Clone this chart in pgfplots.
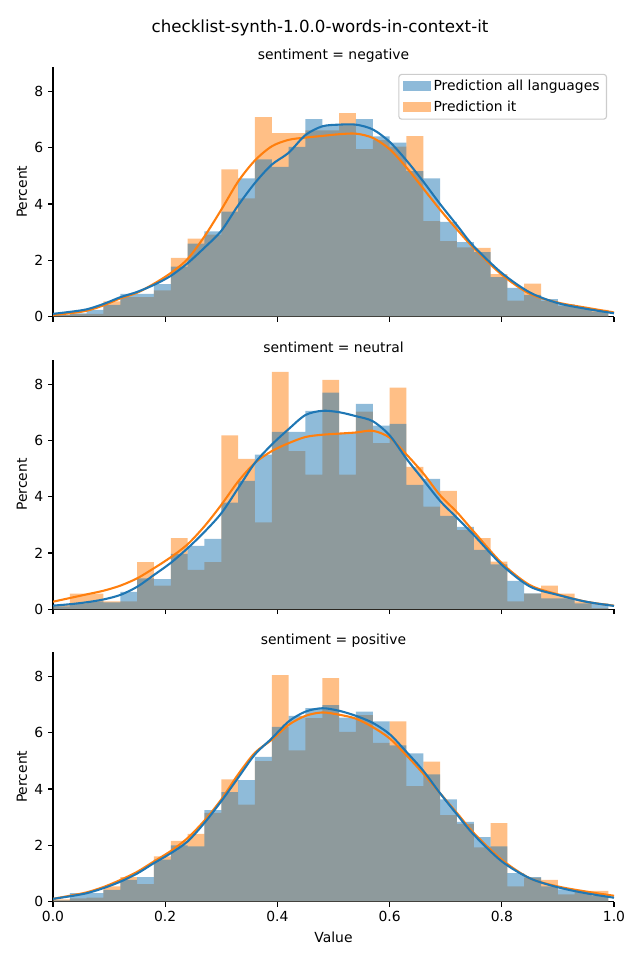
\documentclass[border=0pt]{standalone}
\usepackage{pgfplots}
\usepackage{pgfplotstable}
\pgfplotsset{compat=1.18}
\usepackage{fontspec}
\setmainfont{DejaVu Sans}
\definecolor{tabblue}{HTML}{1F77B4}
\definecolor{taborange}{HTML}{FF7F0E}

\pgfplotstableread{
x a1 o1 a2 o2 a3 o3
0.00 0.06 0.06 0.10 0.15 0.05 0.08
0.03 0.12 0.10 0.20 0.56 0.30 0.12
0.06 0.24 0.10 0.28 0.56 0.30 0.14
0.09 0.42 0.54 0.25 0.28 0.42 0.54
0.12 0.81 0.69 0.62 0.28 0.77 0.87
0.15 0.81 0.69 1.10 1.68 0.87 0.62
0.18 1.16 0.93 1.07 0.84 1.49 1.61
0.21 1.78 2.09 1.97 2.53 2.00 2.16
0.24 2.59 2.77 2.25 1.40 1.96 2.41
0.27 3.03 2.91 2.50 1.68 3.25 3.15
0.30 3.73 5.23 3.79 6.18 3.89 4.34
0.33 4.91 4.20 4.56 5.34 4.32 3.45
0.36 5.59 7.09 5.49 3.09 5.14 4.99
0.39 5.32 6.52 6.30 8.43 6.21 8.05
0.42 6.03 6.52 6.30 5.62 6.60 5.37
0.45 7.02 6.62 7.05 4.78 6.87 6.52
0.48 6.80 6.62 7.70 8.15 6.98 7.94
0.51 6.80 7.23 6.27 4.78 6.54 6.03
0.54 7.02 5.95 7.30 7.02 6.75 6.63
0.57 6.40 6.27 6.52 5.90 6.40 5.64
0.60 6.18 6.04 6.59 7.87 5.55 6.40
0.63 5.17 6.41 4.42 5.06 5.27 4.10
0.66 4.91 3.39 4.63 3.65 4.52 4.97
0.69 3.37 2.68 3.32 4.21 3.63 3.07
0.72 2.65 2.46 2.93 2.81 2.83 2.76
0.75 2.29 2.44 2.11 2.53 2.29 1.93
0.78 1.40 1.51 1.60 1.69 1.96 2.79
0.81 1.02 0.57 1.01 0.28 1.01 0.54
0.84 0.77 1.17 0.57 0.56 0.87 0.85
0.87 0.62 0.55 0.39 0.84 0.54 0.77
0.90 0.44 0.38 0.39 0.56 0.44 0.26
0.93 0.30 0.30 0.21 0.28 0.35 0.38
0.96 0.18 0.24 0.21 0.04 0.21 0.38
0.99 0 0 0 0 0 0
}\bars

\pgfplotstableread{
x a1 o1 a2 o2 a3 o3
0.00 0.10 0.06 0.13 0.27 0.10 0.10
0.03 0.17 0.12 0.18 0.40 0.19 0.21
0.06 0.26 0.21 0.25 0.53 0.30 0.33
0.09 0.45 0.40 0.35 0.66 0.48 0.52
0.12 0.69 0.65 0.51 0.84 0.71 0.77
0.15 0.88 0.85 0.80 1.10 1.00 1.06
0.18 1.13 1.17 1.22 1.46 1.37 1.43
0.21 1.45 1.55 1.65 1.85 1.72 1.80
0.24 1.90 2.05 2.17 2.31 2.14 2.26
0.27 2.45 2.85 2.75 2.95 2.80 2.88
0.30 3.05 3.80 3.41 3.71 3.57 3.63
0.33 3.95 4.80 4.30 4.54 4.40 4.52
0.36 4.75 5.55 5.20 5.20 5.23 5.29
0.39 5.40 6.05 5.85 5.62 5.80 5.75
0.42 5.82 6.28 6.40 5.90 6.40 6.28
0.45 6.45 6.36 6.90 6.12 6.75 6.60
0.48 6.76 6.42 7.05 6.20 6.87 6.72
0.51 6.82 6.48 7.00 6.24 6.78 6.64
0.54 6.82 6.50 6.86 6.28 6.60 6.50
0.57 6.65 6.35 6.68 6.34 6.35 6.20
0.60 6.21 5.95 6.18 6.10 5.95 5.80
0.63 5.55 5.30 5.35 5.50 5.32 5.20
0.66 4.80 4.55 4.60 4.83 4.65 4.55
0.69 4.00 3.80 3.85 4.05 3.85 3.85
0.72 3.25 3.10 3.25 3.45 3.10 3.15
0.75 2.50 2.44 2.64 2.76 2.38 2.44
0.80 1.55 1.49 1.58 1.64 1.43 1.49
0.85 0.86 0.81 0.81 0.86 0.83 0.83
0.90 0.48 0.50 0.51 0.53 0.51 0.54
0.95 0.28 0.32 0.27 0.27 0.30 0.36
1.00 0.12 0.15 0.12 0.13 0.14 0.21
}\kde

\pgfplotsset{
  panel/.style={
    scale only axis, width=403.92pt, height=179.8pt,
    anchor=south west,
    xmin=0, xmax=1, ymin=0, ymax=8.87,
    axis x line*=bottom, axis y line*=left,
    axis line style={line width=0.8pt, -},
    tick align=outside, major tick length=3.5pt,
    every tick/.style={line width=0.8pt, black},
    xtick={0,0.2,0.4,0.6,0.8,1}, ytick={0,2,4,6,8},
    yticklabels={0,2,4,6,8},
    xticklabels={},
    tick label style={font=\fontsize{10}{12}\selectfont},
    label style={font=\fontsize{10}{12}\selectfont},
    ylabel={Percent},
    every axis y label/.style={at={(axis description cs:-0.0553,0.5)}, rotate=90, anchor=center},
    every axis x label/.style={at={(axis description cs:0.5,-0.1426)}, anchor=center},
    every axis title shift=0pt,
    title style={at={(0.5,1)}, anchor=base, yshift=5pt, font=\fontsize{10}{12}\selectfont},
  },
  hbar/.style={ybar interval, draw=none, fill=#1, fill opacity=0.5, forget plot},
  kdeline/.style={#1, line width=1.5pt, smooth, no markers, forget plot},
}

\begin{document}
\begin{tikzpicture}
\path[use as bounding box] (0,0) rectangle (460.8pt,691.2pt);
\node[anchor=base, font=\fontsize{12}{14}\selectfont] at (230.4pt,667.9pt) {checklist-synth-1.0.0-words-in-context-it};

\begin{axis}[panel, at={(38.16pt,463.2pt)}, title={sentiment = negative},
  legend style={at={(1,1)}, anchor=north east, xshift=-5pt, yshift=-5pt,
    draw=black!20, line width=0.8pt, fill=white, fill opacity=0.8, text opacity=1,
    rounded corners=2pt, font=\fontsize{10}{12}\selectfont, row sep=2pt},
  legend cell align=left]
\addlegendimage{legend image code/.code={\path[draw=none, sharp corners, fill=tabblue, fill opacity=0.5] (0pt,-3.5pt) rectangle (20pt,3.5pt);}}
\addlegendentry{Prediction all languages}
\addlegendimage{legend image code/.code={\path[draw=none, sharp corners, fill=taborange, fill opacity=0.5] (0pt,-3.5pt) rectangle (20pt,3.5pt);}}
\addlegendentry{Prediction it}
\addplot[hbar=taborange] table[x=x,y=o1] {\bars};
\addplot[hbar=tabblue] table[x=x,y=a1] {\bars};
\addplot[kdeline=taborange] table[x=x,y=o1] {\kde};
\addplot[kdeline=tabblue] table[x=x,y=a1] {\kde};
\end{axis}

\begin{axis}[panel, at={(38.16pt,252.5pt)}, title={sentiment = neutral}]
\addplot[hbar=taborange] table[x=x,y=o2] {\bars};
\addplot[hbar=tabblue] table[x=x,y=a2] {\bars};
\addplot[kdeline=taborange] table[x=x,y=o2] {\kde};
\addplot[kdeline=tabblue] table[x=x,y=a2] {\kde};
\end{axis}

\begin{axis}[panel, at={(38.16pt,42.0pt)}, title={sentiment = positive},
  xticklabels={0.0,0.2,0.4,0.6,0.8,1.0}, xlabel={Value}]
\addplot[hbar=taborange] table[x=x,y=o3] {\bars};
\addplot[hbar=tabblue] table[x=x,y=a3] {\bars};
\addplot[kdeline=taborange] table[x=x,y=o3] {\kde};
\addplot[kdeline=tabblue] table[x=x,y=a3] {\kde};
\end{axis}
\end{tikzpicture}
\end{document}
